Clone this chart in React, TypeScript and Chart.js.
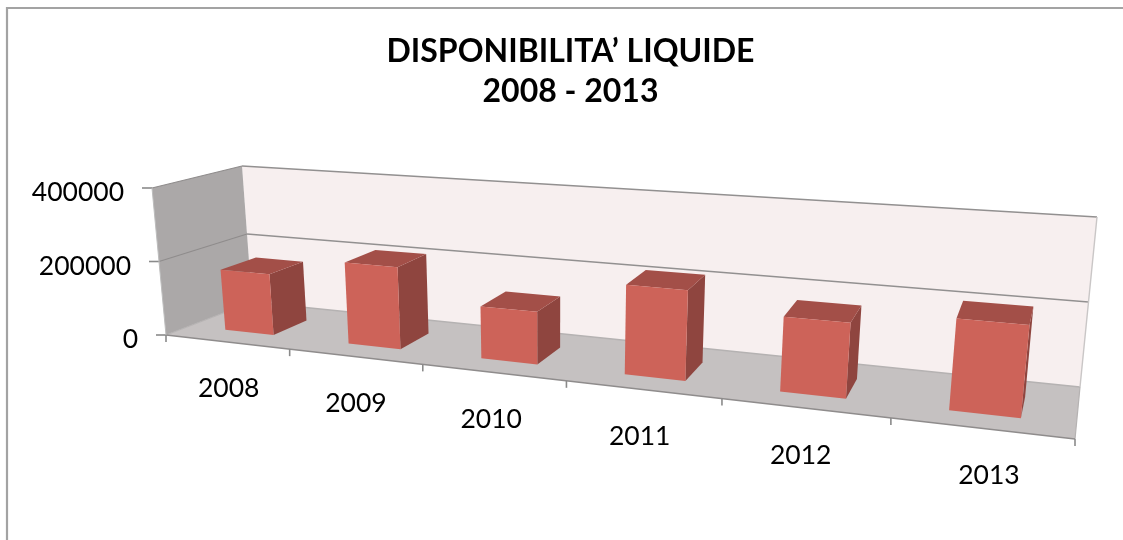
import React, { useEffect, useRef } from "react";
import { Chart, registerables } from "chart.js";

Chart.register(...registerables);

const years = ["2008", "2009", "2010", "2011", "2012", "2013"];
const liquidity = [165000, 215000, 133000, 221000, 178000, 210000];
const titleLines = ["DISPONIBILITA\u2019 LIQUIDE", "2008 - 2013"];
const axisMax = 400000;
const axisStep = 200000;

const FONT = "Lato";
type Pt = [number, number];
// Screen position of the eight corners of the chart's 3D box (left/right, bottom/top, front/back)
const box = {
  flb: [166, 335] as Pt, flt: [152, 188] as Pt, frb: [1075, 439] as Pt, frt: [1094, 255] as Pt,
  blb: [252, 302] as Pt, blt: [242, 166] as Pt, brb: [1080, 387] as Pt, brt: [1097, 217] as Pt,
};
const PERSPECTIVE = 1.27;
const DEPTH_FRONT = 0.28;
const DEPTH_BACK = 0.7;
const labelNudge = [2, 1, -2, -3, -4, 8];

const mix = (a: Pt, b: Pt, k: number): Pt => [a[0] + (b[0] - a[0]) * k, a[1] + (b[1] - a[1]) * k];
function project(u: number, v: number, w: number): Pt {
  const t = u / (u + PERSPECTIVE * (1 - u));
  const front = mix(mix(box.flb, box.frb, t), mix(box.flt, box.frt, t), v);
  const back = mix(mix(box.blb, box.brb, t), mix(box.blt, box.brt, t), v);
  return mix(front, back, w);
}
function face(ctx: CanvasRenderingContext2D, pts: Pt[], fill: string) {
  ctx.beginPath();
  pts.forEach((p, i) => (i ? ctx.lineTo(p[0], p[1]) : ctx.moveTo(p[0], p[1])));
  ctx.closePath();
  ctx.fillStyle = fill;
  ctx.fill();
}
function line(ctx: CanvasRenderingContext2D, a: Pt, b: Pt, color: string, width: number) {
  ctx.beginPath();
  ctx.moveTo(a[0], a[1]);
  ctx.lineTo(b[0], b[1]);
  ctx.strokeStyle = color;
  ctx.lineWidth = width;
  ctx.stroke();
}

const scene3d = {
  id: "scene3d",
  beforeDraw(chart: any) {
    const ctx = chart.ctx;
    ctx.save();
    ctx.fillStyle = "#fff";
    ctx.fillRect(0, 0, chart.width, chart.height);
    ctx.strokeStyle = "#A3A3A3";
    ctx.lineWidth = 2.2;
    ctx.beginPath();
    ctx.moveTo(7, chart.height);
    ctx.lineTo(7, 8);
    ctx.lineTo(chart.width, 8);
    ctx.stroke();
    ctx.restore();
  },
  beforeDatasetsDraw(chart: any) {
    const ctx = chart.ctx;
    const area = chart.chartArea;
    const xs = chart.scales.x;
    const ys = chart.scales.y;
    const n = years.length;
    const toU = (px: number) => (px - area.left) / (area.right - area.left);
    const toV = (py: number) => (area.bottom - py) / (area.bottom - area.top);
    ctx.save();
    ctx.lineCap = "butt";

    // walls and floor
    face(ctx, [project(0, 0, 1), project(1, 0, 1), project(1, 1, 1), project(0, 1, 1)], "#F7EFEF");
    face(ctx, [project(0, 0, 0), project(0, 0, 1), project(0, 1, 1), project(0, 1, 0)], "#ABA8A8");
    face(ctx, [project(0, 0, 0), project(1, 0, 0), project(1, 0, 1), project(0, 0, 1)], "#C5C1C1");

    // gridlines, value ticks and labels
    ctx.font = `26.5px ${FONT}`;
    ctx.fillStyle = "#000";
    ctx.textBaseline = "middle";
    ctx.textAlign = "right";
    ys.ticks.forEach((tk: any) => {
      const v = toV(ys.getPixelForValue(tk.value));
      const grid = tk.value === 0 ? "#B5B2B2" : "#8F8C8C";
      line(ctx, project(0, v, 0), project(0, v, 1), grid, 1.2);
      line(ctx, project(0, v, 1), project(1, v, 1), tk.value === 0 ? "#B5B2B2" : "#929090", 1.4);
      const p = project(0, v, 0);
      line(ctx, [p[0] - 10, p[1]], p, "#8A8A8A", 1.6);
      ctx.fillStyle = "#000";
      ctx.fillText(String(tk.value), p[0] - 28, p[1] + 4.5);
    });
    line(ctx, project(1, 1, 1), project(1, 0, 1), "#C9C6C6", 1.4);
    line(ctx, project(1, 0, 1), project(1, 0, 0), "#B5B2B2", 1.2);
    line(ctx, project(0, 0, 0), project(1, 0, 0), "#8F8C8C", 1.5);
    line(ctx, project(0, 1, 0), project(0, 0, 0), "#BDBDBD", 1);

    // category ticks and labels
    for (let i = 0; i <= n; i++) {
      const p = project(i / n, 0, 0);
      line(ctx, p, [p[0], p[1] + 7], "#8A8A8A", 1.6);
    }
    ctx.textAlign = "center";
    ctx.fillStyle = "#000";
    years.forEach((label, i) => {
      const p = project(toU(xs.getPixelForValue(i)), 0, 0);
      ctx.fillText(label, p[0] + labelNudge[i], p[1] + 47);
    });

    // bars, read from the library's bar elements
    const bars = chart.getDatasetMeta(0).data;
    bars.forEach((bar: any) => {
      const u0 = toU(bar.x - bar.width / 2);
      const u1 = toU(bar.x + bar.width / 2);
      const v0 = toV(bar.base);
      const v1 = toV(bar.y);
      const a = DEPTH_FRONT;
      const b = DEPTH_BACK;
      face(ctx, [project(u1, v0, a), project(u1, v0, b), project(u1, v1, b), project(u1, v1, a)], "#8F453F");
      face(ctx, [project(u0, v1, a), project(u1, v1, a), project(u1, v1, b), project(u0, v1, b)], "#A34F48");
      const front = [project(u0, v0, a), project(u1, v0, a), project(u1, v1, a), project(u0, v1, a)];
      face(ctx, front, bar.options.backgroundColor);
    });
    ctx.restore();
    return false;
  },
};

export default function App() {
  const ref = useRef<HTMLCanvasElement | null>(null);
  useEffect(() => {
    const chart = new Chart(ref.current as HTMLCanvasElement, {
      type: "bar",
      data: {
        labels: years,
        datasets: [
          {
            label: "Disponibilita' liquide",
            data: liquidity,
            backgroundColor: "#CD6359",
            barPercentage: 0.4,
            categoryPercentage: 1,
          },
        ],
      },
      options: {
        responsive: false,
        animation: false,
        layout: { padding: { left: 18, right: 0, top: 0, bottom: 0 } },
        plugins: {
          legend: { display: false },
          tooltip: { enabled: false },
          title: {
            display: true,
            text: titleLines,
            color: "#000",
            font: { family: FONT, size: 32, weight: "bold", lineHeight: 1.25 },
            padding: { top: 32, bottom: 10 },
          },
        },
        scales: {
          x: { display: false },
          y: { display: false, min: 0, max: axisMax, ticks: { stepSize: axisStep } },
        },
      },
      plugins: [scene3d],
    } as any);
    return () => chart.destroy();
  }, []);
  return (
    <div style={{ position: "absolute", left: 0, top: 0, width: 1123, height: 540, overflow: "hidden", background: "#fff" }}>
      <canvas ref={ref} width={1123} height={540} style={{ display: "block", filter: "blur(0.7px)" }} />
    </div>
  );
}
